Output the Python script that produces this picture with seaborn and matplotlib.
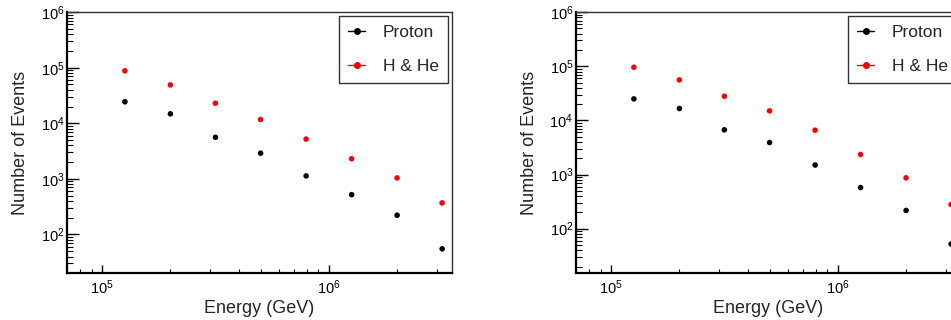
import matplotlib
matplotlib.use("Agg")
import matplotlib.pyplot as plt
import matplotlib.ticker as mticker
from matplotlib.lines import Line2D
import seaborn as sns
import pandas as pd

# Energía (GeV) de cada punto, común a los dos paneles
energy = [1.26e5, 2.0e5, 3.16e5, 5.0e5, 7.94e5, 1.26e6, 2.0e6, 3.16e6]

# Panel izquierdo
proton_left = [2.44e4, 1.48e4, 5.6e3, 2.9e3, 1.13e3, 520, 222, 55]
hhe_left = [8.8e4, 4.9e4, 2.3e4, 1.17e4, 5.2e3, 2.3e3, 1.04e3, 370]

# Panel derecho
proton_right = [2.5e4, 1.66e4, 6.7e3, 3.9e3, 1.5e3, 575, 217, 52]
hhe_right = [9.6e4, 5.6e4, 2.8e4, 1.5e4, 6.6e3, 2.35e3, 870, 280]

series_names = ["Proton", "H & He"]
colors = {"Proton": "black", "H & He": "#ff0000"}


def make_df(proton, hhe):
    return pd.DataFrame({
        "Energy": energy * 2,
        "Events": proton + hhe,
        "Serie": ["Proton"] * len(energy) + ["H & He"] * len(energy),
    })


sns.set_style("white")
plt.rcParams["font.family"] = ["Liberation Sans", "DejaVu Sans"]
plt.rcParams["mathtext.fontset"] = "custom"
plt.rcParams["mathtext.rm"] = "Liberation Sans"

fig = plt.figure(figsize=(9.51, 3.2), dpi=100)
ax_l = fig.add_axes([0.0705, 0.146, 0.405, 0.816])
ax_r = fig.add_axes([0.6057, 0.146, 0.405, 0.816])

panels = [
    (ax_l, make_df(proton_left, hhe_left), 20),
    (ax_r, make_df(proton_right, hhe_right), 15),
]

for ax, df, ymin in panels:
    sns.scatterplot(data=df, x="Energy", y="Events", hue="Serie",
                    palette=colors, s=16, linewidth=0, ax=ax, legend=False,
                    zorder=3)
    ax.set_xscale("log")
    ax.set_yscale("log")
    ax.set_xlim(7.0e4, 3.5e6)
    ax.set_ylim(ymin, 1e6)

    ax.xaxis.set_major_locator(mticker.LogLocator(base=10, subs=[1.0]))
    ax.xaxis.set_minor_locator(mticker.LogLocator(base=10, subs=range(2, 10), numticks=20))
    ax.yaxis.set_major_locator(mticker.LogLocator(base=10, subs=[1.0], numticks=20))
    ax.yaxis.set_minor_locator(mticker.LogLocator(base=10, subs=range(2, 10), numticks=20))
    ax.xaxis.set_minor_formatter(mticker.NullFormatter())
    ax.yaxis.set_minor_formatter(mticker.NullFormatter())

    ax.tick_params(axis="both", which="both", direction="in", colors="black",
                   labelsize=10.5, top=False, right=False, left=True,
                   bottom=True)
    ax.tick_params(axis="y", which="major", length=8.6, width=1.0, pad=2)
    ax.tick_params(axis="y", which="minor", length=4.3, width=0.8)
    ax.tick_params(axis="x", which="major", length=5.8, width=1.0, pad=4)
    ax.tick_params(axis="x", which="minor", length=2.9, width=0.8)

    for side in ["left", "bottom"]:
        ax.spines[side].set_linewidth(1.6)
        ax.spines[side].set_color("black")
    for side in ["top", "right"]:
        ax.spines[side].set_linewidth(1.0)
        ax.spines[side].set_color("#333333")

    ax.set_xlabel("Energy (GeV)", fontsize=13, labelpad=2)
    ax.set_ylabel("Number of Events", fontsize=13, labelpad=8)

    handles = [Line2D([], [], color=colors[n], marker="o", markersize=4,
                      linewidth=1.0) for n in series_names]
    leg = ax.legend(handles, series_names, loc="upper right",
                    bbox_to_anchor=(0.99, 0.987), borderaxespad=0,
                    fontsize=12.5, handlelength=1.0, handletextpad=1.0,
                    labelspacing=1.05, borderpad=0.55, fancybox=False,
                    framealpha=1, edgecolor="#333333")
    leg.get_frame().set_linewidth(1.0)

fig.savefig("out.png", dpi=100)
